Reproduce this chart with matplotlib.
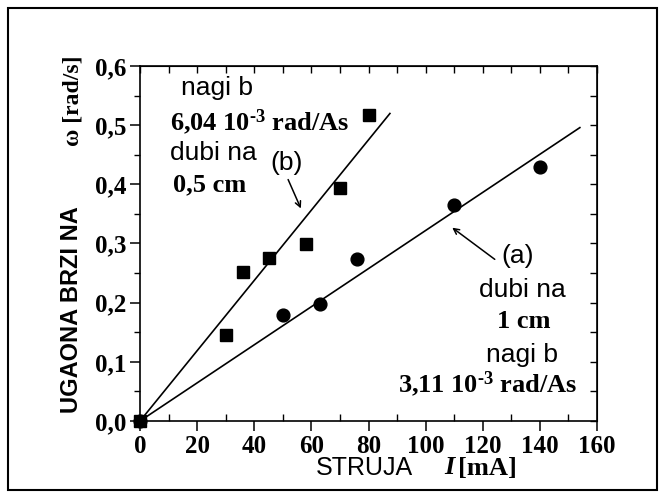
import matplotlib
matplotlib.use('Agg')
import matplotlib.pyplot as plt
from matplotlib.ticker import MultipleLocator, FuncFormatter
from matplotlib.patches import Rectangle

# ---- data ----
current_b = [0, 30, 36, 45, 58, 70, 80]            # mA, depth 0.5 cm (squares)
omega_b = [0, 0.145, 0.252, 0.275, 0.299, 0.393, 0.517]
current_a = [0, 50, 63, 76, 110, 140]               # mA, depth 1 cm (circles)
omega_a = [0, 0.179, 0.197, 0.273, 0.365, 0.430]
fit_b_slope = 0.00594   # rad/s per mA
fit_b_xmax = 87.5
fit_a_slope = 0.00322
fit_a_xmax = 154
xlim = (0, 160)
ylim = (0, 0.6)

plt.rcParams['mathtext.fontset'] = 'custom'
plt.rcParams['mathtext.rm'] = 'Liberation Serif:bold'
plt.rcParams['mathtext.bf'] = 'Liberation Serif:bold'
plt.rcParams['mathtext.it'] = 'Liberation Serif:bold:italic'

W, H = 665, 497
fig = plt.figure(figsize=(W / 100, H / 100), dpi=100)


def px(x, y):
    return x / W, 1 - y / H


ax = fig.add_axes([140 / W, 1 - 421 / H, 457 / W, 355 / H])

ax.plot([0, fit_b_xmax], [0, fit_b_slope * fit_b_xmax], color='black', lw=1.2)
ax.plot([0, fit_a_xmax], [0, fit_a_slope * fit_a_xmax], color='black', lw=1.2)
ax.plot(current_b, omega_b, 's', color='black', ms=8.5, clip_on=False, zorder=5)
ax.plot(current_a, omega_a, 'o', color='black', ms=9.2, clip_on=False, zorder=5)

ax.set_xlim(*xlim)
ax.set_ylim(*ylim)
ax.xaxis.set_major_locator(MultipleLocator(20))
ax.xaxis.set_minor_locator(MultipleLocator(10))
ax.yaxis.set_major_locator(MultipleLocator(0.1))
ax.yaxis.set_minor_locator(MultipleLocator(0.05))
ax.yaxis.set_major_formatter(FuncFormatter(lambda v, p: f"{v:.1f}".replace('.', ',')))
ax.xaxis.set_major_formatter(FuncFormatter(lambda v, p: f"{v:.0f}"))

ax.tick_params(which='major', direction='out', length=7, width=1.1, top=False, right=False, pad=3)
ax.tick_params(axis='x', which='minor', direction='in', length=5, width=1.0, top=False)
ax.tick_params(axis='y', which='minor', direction='out', length=4, width=1.0, right=False)
for lab in ax.get_xticklabels() + ax.get_yticklabels():
    lab.set_fontfamily('Liberation Serif')
    lab.set_fontweight('bold')
    lab.set_fontsize(18)
for s in ax.spines.values():
    s.set_linewidth(1.2)

secx = ax.secondary_xaxis('top')
secx.xaxis.set_major_locator(MultipleLocator(20))
secx.xaxis.set_minor_locator(MultipleLocator(10))
secx.tick_params(which='both', direction='in', length=5, width=1.0, labeltop=False)
secy = ax.secondary_yaxis('right')
secy.yaxis.set_major_locator(MultipleLocator(0.1))
secy.yaxis.set_minor_locator(MultipleLocator(0.05))
secy.tick_params(which='both', direction='in', length=5, width=1.0, labelright=False)

sans = dict(family='Liberation Sans', fontsize=19, ha='center', va='center')
serif = dict(family='Liberation Serif', fontweight='bold', fontsize=19, ha='center', va='center')

# annotations for (b)
fig.text(*px(217, 88), 'nagi b', **sans)
fig.text(*px(260, 122), r'6,04 10$^{\text{-3}}$ rad/As', **serif)
fig.text(*px(213, 153), 'dubi na', **sans)
fig.text(*px(210, 185), '0,5 cm', **serif)
fig.text(*px(287, 163), '(b)', **sans)
ax.annotate('', xy=(302 / W, 1 - 211 / H), xycoords='figure fraction',
            xytext=(287 / W, 1 - 177 / H), textcoords='figure fraction',
            arrowprops=dict(arrowstyle='->', color='black', lw=1.1))

# annotations for (a)
fig.text(*px(518, 256), '(a)', **sans)
fig.text(*px(522, 290), 'dubi na', **sans)
fig.text(*px(524, 322), '1 cm', **serif)
fig.text(*px(522, 355), 'nagi b', **sans)
fig.text(*px(488, 384), r'3,11 10$^{\text{-3}}$ rad/As', **serif)
ax.annotate('', xy=(450 / W, 1 - 226 / H), xycoords='figure fraction',
            xytext=(497 / W, 1 - 261 / H), textcoords='figure fraction',
            arrowprops=dict(arrowstyle='->', color='black', lw=1.1))

# axis labels
fig.text(*px(72, 310), 'UGAONA BRZI NA', family='Liberation Sans', fontweight='bold',
         fontsize=17, rotation=90, ha='center', va='center')
fig.text(*px(73, 101), 'ω [rad/s]', family='Liberation Serif', fontweight='bold',
         fontsize=17, rotation=90, ha='center', va='center')
fig.text(*px(364, 468), 'STRUJA', family='Liberation Sans', fontsize=18, ha='center', va='center')
fig.text(*px(449, 468), 'I', family='Liberation Serif', fontweight='bold', style='italic',
         fontsize=19, ha='center', va='center')
fig.text(*px(458, 468), '[mA]', family='Liberation Serif', fontweight='bold',
         fontsize=19, ha='left', va='center')

# outer frame
fig.patches.append(Rectangle((8 / W, 1 - 490 / H), 649 / W, 482 / H, transform=fig.transFigure,
                             fill=False, edgecolor='black', lw=1.5))

fig.savefig('out.png', dpi=100)
